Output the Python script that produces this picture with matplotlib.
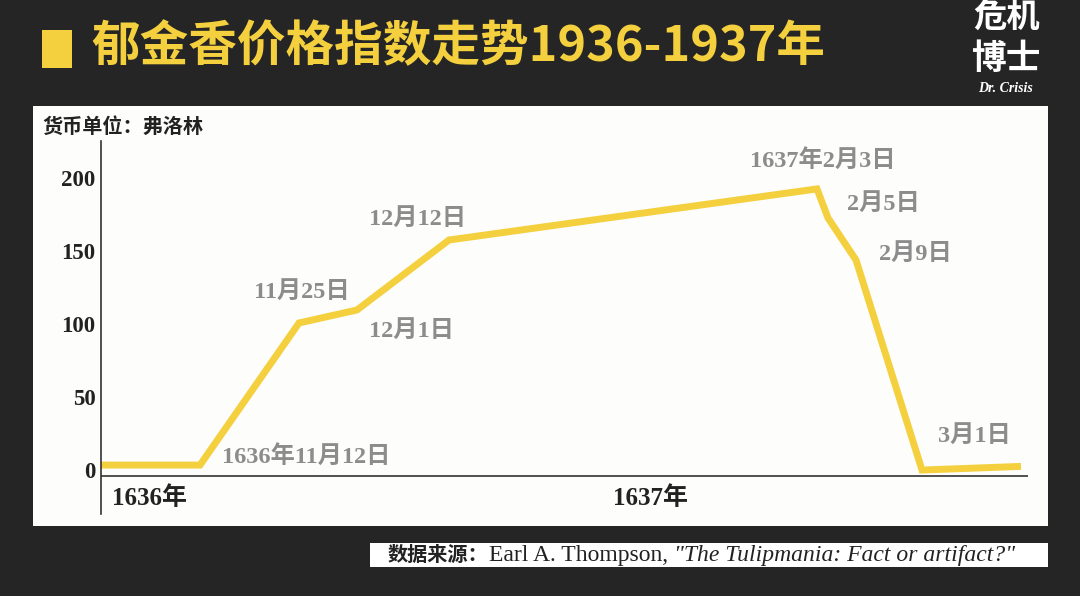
import matplotlib.pyplot as plt
from matplotlib.patches import Rectangle

# data: x is the position along the (non-linear) timeline, y in florins
x = [0, 99, 198, 256, 348, 716, 727, 755, 821, 920]
y = [3.4, 3.4, 100.7, 109.6, 157.5, 192.5, 172.6, 143.8, 0, 2.5]
labels = [None, '1636年11月12日', '11月25日', '12月1日', '12月12日',
          '1637年2月3日', '2月5日', '2月9日', '3月1日', None]
# label offsets in pixels (dx, dy) and alignment
offsets = [None, (22, 9, 'left'), (3, 31, 'center'), (54, -21, 'center'),
           (-31, 21, 'center'), (6, 28, 'center'), (55, 14, 'center'),
           (59, 6, 'center'), (52, 34, 'center'), None]
yticks = [0, 50, 100, 150, 200]
years = ['1636年', '1637年']
year_x = [11, 512]

BG = '#252525'
YEL = '#f4d03f'
GRAY = '#8c8c8c'
SERIF = ['Liberation Serif', 'Noto Sans CJK SC']
CJK = ['Noto Sans CJK SC', 'DejaVu Sans']

fig = plt.figure(figsize=(10.8, 5.96), dpi=100, facecolor=BG)

# white panel
fig.patches.append(Rectangle((33 / 1080, 1 - 526 / 596), 1015 / 1080, 420 / 596,
                             transform=fig.transFigure, facecolor='#fdfdfb',
                             edgecolor='none', zorder=-5))

# title
fig.patches.append(Rectangle((42 / 1080, 1 - 68 / 596), 30 / 1080, 38 / 596,
                             transform=fig.transFigure, facecolor=YEL,
                             edgecolor='none'))
fig.text(91 / 1080, 1 - 47 / 596, '郁金香价格指数走势1936-1937年', color=YEL,
         fontsize=35, fontweight='bold', family=CJK, ha='left', va='center')

# logo
fig.text(1007 / 1080, 1 - 17 / 596, '危机', color='white', fontsize=24,
         fontweight='bold', family=CJK, ha='center', va='center')
fig.text(1007 / 1080, 1 - 58 / 596, '博士', color='white', fontsize=25,
         fontweight='bold', family=CJK, ha='center', va='center')
fig.text(1005 / 1080, 1 - 88 / 596, 'Dr. Crisis', color='white', fontsize=10,
         fontweight='bold', style='italic', family='Liberation Serif',
         ha='center', va='center')

# unit label
fig.text(42 / 1080, 1 - 126 / 596, '货币单位：弗洛林', color='#222222',
         fontsize=14.5, fontweight='bold', family=CJK, ha='left', va='center')

ax = fig.add_axes([101 / 1080, 1 - 514 / 596, 927 / 1080, 373 / 596], zorder=2)
ax.set_facecolor('none')
ax.set_xlim(0, 927)
ax.set_ylim(-30.1, 225.3)
for s in ['top', 'right', 'bottom']:
    ax.spines[s].set_visible(False)
ax.spines['left'].set_color('#333333')
ax.spines['left'].set_linewidth(1.2)
ax.axhline(-4.1, color='#333333', lw=1.2)
ax.set_xticks([])
ax.set_yticks(yticks)
ax.tick_params(axis='y', length=0, pad=4)
for t in ax.get_yticklabels():
    t.set_fontfamily(SERIF)
    t.set_fontweight('bold')
    t.set_fontsize(16.5)
    t.set_color('#222222')

ax.plot(x, y, color=YEL, lw=5, solid_joinstyle='miter', solid_capstyle='butt')

for xi, yi, lab, off in zip(x, y, labels, offsets):
    if lab is None:
        continue
    dx, dy, ha = off
    ax.annotate(lab, (xi, yi), xytext=(dx, dy), textcoords='offset pixels',
                ha=ha, va='center', color=GRAY, fontsize=17.5,
                fontweight='bold', family=SERIF)

for xt, lab in zip(year_x, years):
    ax.text(xt, -19.2, lab, ha='left', va='center', color='#222222',
            fontsize=18, fontweight='bold', family=SERIF)

# source box
fig.patches.append(Rectangle((370 / 1080, 1 - 567 / 596), 678 / 1080, 24 / 596,
                             transform=fig.transFigure, facecolor='white',
                             edgecolor='none'))
r = fig.canvas.get_renderer()
ty = 1 - 561 / 596
t1 = fig.text(388 / 1080, ty, '数据来源：', color='#222222', fontsize=14.5,
              fontweight='bold', family=CJK, ha='left', va='baseline')
bb = t1.get_window_extent(r)
t2 = fig.text(bb.x1 / 1080, ty, 'Earl A. Thompson, ', color='#222222',
              fontsize=17, family='Liberation Serif', ha='left', va='baseline')
bb = t2.get_window_extent(r)
fig.text(bb.x1 / 1080, ty, '"The Tulipmania: Fact or artifact?"', color='#222222',
         fontsize=17, style='italic', family='Liberation Serif', ha='left',
         va='baseline')

fig.savefig('out.png', dpi=100, facecolor=BG)
